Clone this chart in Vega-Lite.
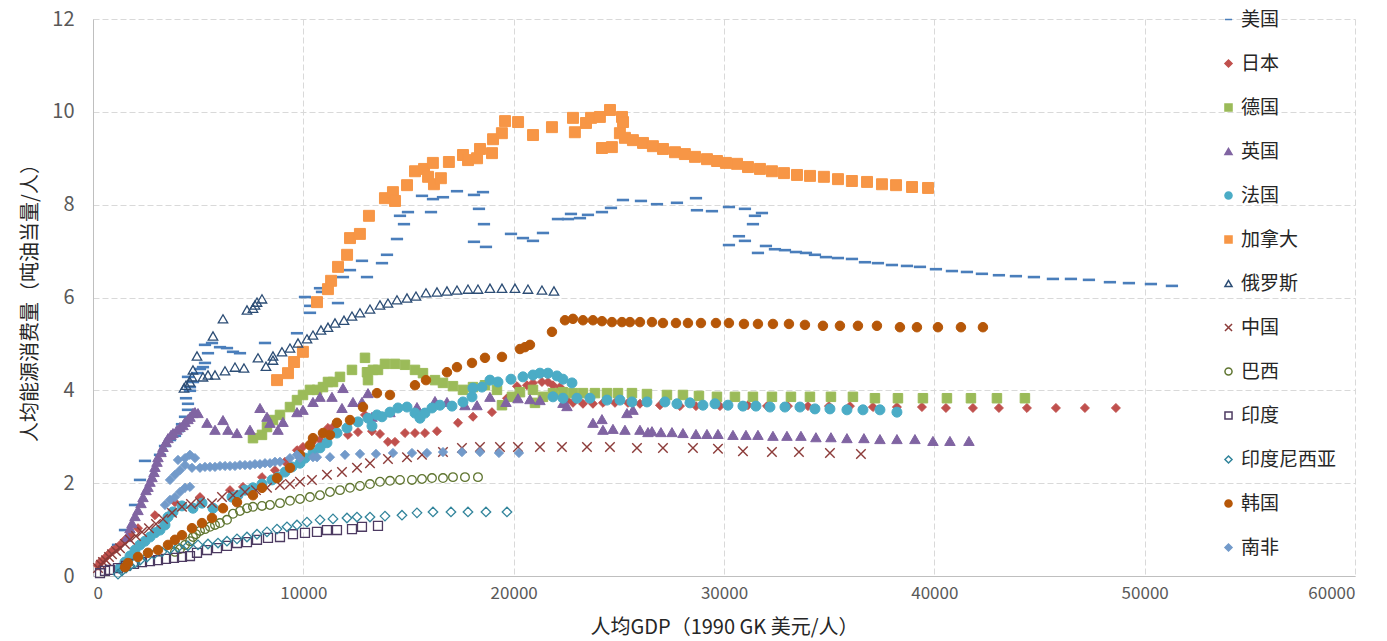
{
  "$schema": "https://vega.github.io/schema/vega-lite/v6.json",
  "width": 1262,
  "height": 557,
  "autosize": {"type": "none"},
  "padding": {"left": 93, "top": 19, "right": 32, "bottom": 65},
  "background": "white",
  "config": {
    "view": {"stroke": null},
    "font": "Noto Sans CJK SC"
  },
  "data": {
    "values": [
      {"country":"美国","gdp":1189,"energy":0.67},{"country":"美国","gdp":1521,"energy":0.99},{"country":"美国","gdp":1997,"energy":1.53},{"country":"美国","gdp":2234,"energy":2.07},{"country":"美国","gdp":2472,"energy":2.48},{"country":"美国","gdp":3185,"energy":2.61},{"country":"美国","gdp":3423,"energy":2.80},{"country":"美国","gdp":3661,"energy":2.93},{"country":"美国","gdp":3898,"energy":3.02},{"country":"美国","gdp":4041,"energy":3.12},{"country":"美国","gdp":4231,"energy":3.27},{"country":"美国","gdp":4374,"energy":3.43},{"country":"美国","gdp":4516,"energy":3.58},{"country":"美国","gdp":4516,"energy":3.71},{"country":"美国","gdp":4421,"energy":3.83},{"country":"美国","gdp":4611,"energy":3.99},{"country":"美国","gdp":4611,"energy":4.07},{"country":"美国","gdp":4754,"energy":4.18},{"country":"美国","gdp":4516,"energy":4.29},{"country":"美国","gdp":4944,"energy":4.37},{"country":"美国","gdp":5087,"energy":4.46},{"country":"美国","gdp":5229,"energy":4.50},{"country":"美国","gdp":5324,"energy":4.59},{"country":"美国","gdp":5467,"energy":4.80},{"country":"美国","gdp":5324,"energy":4.98},{"country":"美国","gdp":5657,"energy":5.02},{"country":"美国","gdp":6038,"energy":4.93},{"country":"美国","gdp":6370,"energy":4.91},{"country":"美国","gdp":6656,"energy":4.83},{"country":"美国","gdp":6988,"energy":4.80},{"country":"美国","gdp":8177,"energy":5.02},{"country":"美国","gdp":9698,"energy":5.23},{"country":"美国","gdp":10316,"energy":5.67},{"country":"美国","gdp":10316,"energy":5.82},{"country":"美国","gdp":10078,"energy":6.01},{"country":"美国","gdp":10792,"energy":6.20},{"country":"美国","gdp":10887,"energy":6.12},{"country":"美国","gdp":11647,"energy":5.88},{"country":"美国","gdp":11885,"energy":6.44},{"country":"美国","gdp":12218,"energy":6.59},{"country":"美国","gdp":12788,"energy":6.79},{"country":"美国","gdp":13026,"energy":6.44},{"country":"美国","gdp":13739,"energy":6.74},{"country":"美国","gdp":13977,"energy":6.92},{"country":"美国","gdp":14452,"energy":7.26},{"country":"美国","gdp":14595,"energy":7.76},{"country":"美国","gdp":14785,"energy":7.58},{"country":"美国","gdp":14975,"energy":7.84},{"country":"美国","gdp":15641,"energy":8.19},{"country":"美国","gdp":16069,"energy":7.84},{"country":"美国","gdp":16164,"energy":8.12},{"country":"美国","gdp":16639,"energy":8.16},{"country":"美国","gdp":17305,"energy":8.29},{"country":"美国","gdp":18113,"energy":8.21},{"country":"美国","gdp":18541,"energy":8.27},{"country":"美国","gdp":18350,"energy":7.91},{"country":"美国","gdp":18588,"energy":7.58},{"country":"美国","gdp":18113,"energy":7.20},{"country":"美国","gdp":18683,"energy":7.09},{"country":"美国","gdp":19872,"energy":7.37},{"country":"美国","gdp":20442,"energy":7.28},{"country":"美国","gdp":20918,"energy":7.22},{"country":"美国","gdp":21393,"energy":7.39},{"country":"美国","gdp":22106,"energy":7.69},{"country":"美国","gdp":22582,"energy":7.69},{"country":"美国","gdp":22724,"energy":7.80},{"country":"美国","gdp":23152,"energy":7.71},{"country":"美国","gdp":23532,"energy":7.78},{"country":"美国","gdp":24198,"energy":7.84},{"country":"美国","gdp":24626,"energy":7.93},{"country":"美国","gdp":25196,"energy":8.10},{"country":"美国","gdp":26052,"energy":8.08},{"country":"美国","gdp":26813,"energy":8.01},{"country":"美国","gdp":27763,"energy":8.04},{"country":"美国","gdp":28667,"energy":8.14},{"country":"美国","gdp":28714,"energy":7.88},{"country":"美国","gdp":29427,"energy":7.86},{"country":"美国","gdp":30235,"energy":7.95},{"country":"美国","gdp":30996,"energy":7.91},{"country":"美国","gdp":31471,"energy":7.76},{"country":"美国","gdp":31804,"energy":7.82},{"country":"美国","gdp":31376,"energy":7.58},{"country":"美国","gdp":30711,"energy":7.32},{"country":"美国","gdp":30235,"energy":7.13},{"country":"美国","gdp":30996,"energy":7.22},{"country":"美国","gdp":31614,"energy":6.96},{"country":"美国","gdp":31994,"energy":7.11},{"country":"美国","gdp":32422,"energy":7.04},{"country":"美国","gdp":32898,"energy":7.02},{"country":"美国","gdp":33421,"energy":6.98},{"country":"美国","gdp":33896,"energy":6.96},{"country":"美国","gdp":34324,"energy":6.92},{"country":"美国","gdp":34847,"energy":6.87},{"country":"美国","gdp":35417,"energy":6.85},{"country":"美国","gdp":36083,"energy":6.83},{"country":"美国","gdp":36701,"energy":6.76},{"country":"美国","gdp":37319,"energy":6.74},{"country":"美国","gdp":37984,"energy":6.70},{"country":"美国","gdp":38698,"energy":6.68},{"country":"美国","gdp":39316,"energy":6.66},{"country":"美国","gdp":40076,"energy":6.61},{"country":"美国","gdp":40837,"energy":6.57},{"country":"美国","gdp":41550,"energy":6.55},{"country":"美国","gdp":42263,"energy":6.51},{"country":"美国","gdp":43071,"energy":6.48},{"country":"美国","gdp":43879,"energy":6.46},{"country":"美国","gdp":44735,"energy":6.44},{"country":"美国","gdp":45638,"energy":6.40},{"country":"美国","gdp":46494,"energy":6.40},{"country":"美国","gdp":47350,"energy":6.38},{"country":"美国","gdp":48348,"energy":6.33},{"country":"美国","gdp":49251,"energy":6.31},{"country":"美国","gdp":50297,"energy":6.29},{"country":"美国","gdp":51296,"energy":6.25},

      {"country":"日本","gdp":238,"energy":0.22},{"country":"日本","gdp":333,"energy":0.30},{"country":"日本","gdp":475,"energy":0.34},{"country":"日本","gdp":618,"energy":0.41},{"country":"日本","gdp":713,"energy":0.45},{"country":"日本","gdp":856,"energy":0.52},{"country":"日本","gdp":998,"energy":0.56},{"country":"日本","gdp":1141,"energy":0.60},{"country":"日本","gdp":1284,"energy":0.67},{"country":"日本","gdp":1521,"energy":0.78},{"country":"日本","gdp":1759,"energy":0.88},{"country":"日本","gdp":2139,"energy":1.03},{"country":"日本","gdp":2947,"energy":1.31},{"country":"日本","gdp":3898,"energy":1.59},{"country":"日本","gdp":5087,"energy":1.70},{"country":"日本","gdp":6513,"energy":1.85},{"country":"日本","gdp":7131,"energy":1.92},{"country":"日本","gdp":8034,"energy":2.13},{"country":"日本","gdp":8652,"energy":2.28},{"country":"日本","gdp":9128,"energy":2.46},{"country":"日本","gdp":9698,"energy":2.71},{"country":"日本","gdp":9983,"energy":2.78},{"country":"日本","gdp":10411,"energy":2.87},{"country":"日本","gdp":10792,"energy":2.93},{"country":"日本","gdp":11172,"energy":3.19},{"country":"日本","gdp":11410,"energy":3.21},{"country":"日本","gdp":12123,"energy":3.04},{"country":"日本","gdp":12598,"energy":3.10},{"country":"日本","gdp":12931,"energy":3.47},{"country":"日本","gdp":13264,"energy":3.12},{"country":"日本","gdp":13644,"energy":3.06},{"country":"日本","gdp":14024,"energy":2.89},{"country":"日本","gdp":14357,"energy":2.89},{"country":"日本","gdp":14832,"energy":3.08},{"country":"日本","gdp":15308,"energy":3.08},{"country":"日本","gdp":15783,"energy":3.08},{"country":"日本","gdp":16354,"energy":3.12},{"country":"日本","gdp":17352,"energy":3.30},{"country":"日本","gdp":18065,"energy":3.43},{"country":"日本","gdp":18968,"energy":3.53},{"country":"日本","gdp":19682,"energy":3.83},{"country":"日本","gdp":20157,"energy":4.09},{"country":"日本","gdp":20632,"energy":4.11},{"country":"日本","gdp":20918,"energy":4.16},{"country":"日本","gdp":21345,"energy":4.18},{"country":"日本","gdp":21631,"energy":4.18},{"country":"日本","gdp":21868,"energy":4.11},{"country":"日本","gdp":22201,"energy":4.07},{"country":"日本","gdp":22534,"energy":3.79},{"country":"日本","gdp":22819,"energy":3.73},{"country":"日本","gdp":23295,"energy":3.71},{"country":"日本","gdp":23770,"energy":3.71},{"country":"日本","gdp":24245,"energy":3.73},{"country":"日本","gdp":24816,"energy":3.73},{"country":"日本","gdp":25434,"energy":3.73},{"country":"日本","gdp":26004,"energy":3.71},{"country":"日本","gdp":26955,"energy":3.68},{"country":"日本","gdp":27906,"energy":3.66},{"country":"日本","gdp":28667,"energy":3.66},{"country":"日本","gdp":29808,"energy":3.66},{"country":"日本","gdp":31139,"energy":3.68},{"country":"日本","gdp":32042,"energy":3.66},{"country":"日本","gdp":33040,"energy":3.66},{"country":"日本","gdp":33991,"energy":3.66},{"country":"日本","gdp":34989,"energy":3.66},{"country":"日本","gdp":35988,"energy":3.66},{"country":"日本","gdp":37081,"energy":3.64},{"country":"日本","gdp":38222,"energy":3.64},{"country":"日本","gdp":39411,"energy":3.64},{"country":"日本","gdp":40552,"energy":3.62},{"country":"日本","gdp":41835,"energy":3.62},{"country":"日本","gdp":43071,"energy":3.62},{"country":"日本","gdp":44402,"energy":3.62},{"country":"日本","gdp":45781,"energy":3.62},{"country":"日本","gdp":47160,"energy":3.62},{"country":"日本","gdp":48633,"energy":3.62},

      {"country":"德国","gdp":7606,"energy":2.97},{"country":"德国","gdp":8034,"energy":3.04},{"country":"德国","gdp":8272,"energy":3.21},{"country":"德国","gdp":8557,"energy":3.36},{"country":"德国","gdp":8890,"energy":3.47},{"country":"德国","gdp":9365,"energy":3.64},{"country":"德国","gdp":9698,"energy":3.79},{"country":"德国","gdp":9983,"energy":3.90},{"country":"德国","gdp":10316,"energy":4.01},{"country":"德国","gdp":10649,"energy":4.01},{"country":"德国","gdp":10934,"energy":4.07},{"country":"德国","gdp":11172,"energy":4.18},{"country":"德国","gdp":11410,"energy":4.18},{"country":"德国","gdp":11742,"energy":4.29},{"country":"德国","gdp":12313,"energy":4.44},{"country":"德国","gdp":12931,"energy":4.70},{"country":"德国","gdp":13026,"energy":4.39},{"country":"德国","gdp":13074,"energy":4.22},{"country":"德国","gdp":13311,"energy":4.44},{"country":"德国","gdp":13549,"energy":4.44},{"country":"德国","gdp":13882,"energy":4.57},{"country":"德国","gdp":14357,"energy":4.57},{"country":"德国","gdp":14832,"energy":4.55},{"country":"德国","gdp":15308,"energy":4.44},{"country":"德国","gdp":15688,"energy":4.37},{"country":"德国","gdp":16259,"energy":4.22},{"country":"德国","gdp":16639,"energy":4.16},{"country":"德国","gdp":17114,"energy":4.09},{"country":"德国","gdp":17590,"energy":4.01},{"country":"德国","gdp":18065,"energy":4.07},{"country":"德国","gdp":18636,"energy":4.11},{"country":"德国","gdp":19206,"energy":4.01},{"country":"德国","gdp":19444,"energy":3.68},{"country":"德国","gdp":19919,"energy":3.86},{"country":"德国","gdp":20300,"energy":3.96},{"country":"德国","gdp":20918,"energy":4.01},{"country":"德国","gdp":21013,"energy":3.73},{"country":"德国","gdp":21393,"energy":3.86},{"country":"德国","gdp":21868,"energy":3.94},{"country":"德国","gdp":22344,"energy":3.96},{"country":"德国","gdp":22819,"energy":3.94},{"country":"德国","gdp":23295,"energy":3.94},{"country":"德国","gdp":23865,"energy":3.94},{"country":"德国","gdp":24436,"energy":3.94},{"country":"德国","gdp":24959,"energy":3.94},{"country":"德国","gdp":25624,"energy":3.94},{"country":"德国","gdp":26337,"energy":3.92},{"country":"德国","gdp":27288,"energy":3.90},{"country":"德国","gdp":28049,"energy":3.90},{"country":"德国","gdp":28809,"energy":3.88},{"country":"德国","gdp":29665,"energy":3.86},{"country":"德国","gdp":30521,"energy":3.86},{"country":"德国","gdp":31376,"energy":3.86},{"country":"德国","gdp":32280,"energy":3.86},{"country":"德国","gdp":33183,"energy":3.86},{"country":"德国","gdp":34086,"energy":3.86},{"country":"德国","gdp":35085,"energy":3.86},{"country":"德国","gdp":36130,"energy":3.86},{"country":"德国","gdp":37176,"energy":3.83},{"country":"德国","gdp":38270,"energy":3.83},{"country":"德国","gdp":39458,"energy":3.83},{"country":"德国","gdp":40599,"energy":3.83},{"country":"德国","gdp":41740,"energy":3.83},{"country":"德国","gdp":42976,"energy":3.83},{"country":"德国","gdp":44307,"energy":3.83},

      {"country":"英国","gdp":1616,"energy":0.84},{"country":"英国","gdp":1759,"energy":1.03},{"country":"英国","gdp":1854,"energy":1.14},{"country":"英国","gdp":1997,"energy":1.29},{"country":"英国","gdp":2139,"energy":1.42},{"country":"英国","gdp":2282,"energy":1.57},{"country":"英国","gdp":2377,"energy":1.70},{"country":"英国","gdp":2520,"energy":1.85},{"country":"英国","gdp":2615,"energy":1.92},{"country":"英国","gdp":2710,"energy":2.03},{"country":"英国","gdp":2805,"energy":2.13},{"country":"英国","gdp":2900,"energy":2.24},{"country":"英国","gdp":2947,"energy":2.35},{"country":"英国","gdp":3043,"energy":2.46},{"country":"英国","gdp":3090,"energy":2.56},{"country":"英国","gdp":3233,"energy":2.67},{"country":"英国","gdp":3328,"energy":2.78},{"country":"英国","gdp":3470,"energy":2.89},{"country":"英国","gdp":3566,"energy":2.97},{"country":"英国","gdp":3708,"energy":3.04},{"country":"英国","gdp":3803,"energy":3.08},{"country":"英国","gdp":3993,"energy":3.15},{"country":"英国","gdp":4136,"energy":3.21},{"country":"英国","gdp":4279,"energy":3.25},{"country":"英国","gdp":4374,"energy":3.32},{"country":"英国","gdp":4516,"energy":3.38},{"country":"英国","gdp":4611,"energy":3.43},{"country":"英国","gdp":4754,"energy":3.51},{"country":"英国","gdp":4849,"energy":3.53},{"country":"英国","gdp":4992,"energy":3.51},{"country":"英国","gdp":5420,"energy":3.30},{"country":"英国","gdp":5800,"energy":3.15},{"country":"英国","gdp":6180,"energy":3.36},{"country":"英国","gdp":6418,"energy":3.15},{"country":"英国","gdp":6846,"energy":3.08},{"country":"英国","gdp":7464,"energy":3.15},{"country":"英国","gdp":7939,"energy":3.62},{"country":"英国","gdp":8272,"energy":3.43},{"country":"英国","gdp":8415,"energy":3.30},{"country":"英国","gdp":8795,"energy":3.15},{"country":"英国","gdp":9033,"energy":3.32},{"country":"英国","gdp":9698,"energy":3.53},{"country":"英国","gdp":9983,"energy":3.58},{"country":"英国","gdp":10459,"energy":3.75},{"country":"英国","gdp":10792,"energy":3.86},{"country":"英国","gdp":11362,"energy":3.86},{"country":"英国","gdp":11885,"energy":4.05},{"country":"英国","gdp":11837,"energy":3.62},{"country":"英国","gdp":12360,"energy":3.75},{"country":"英国","gdp":12788,"energy":3.75},{"country":"英国","gdp":13074,"energy":3.94},{"country":"英国","gdp":13264,"energy":3.43},{"country":"英国","gdp":14119,"energy":3.53},{"country":"英国","gdp":15403,"energy":3.64},{"country":"英国","gdp":16259,"energy":3.77},{"country":"英国","gdp":16829,"energy":3.75},{"country":"英国","gdp":17685,"energy":3.68},{"country":"英国","gdp":18255,"energy":3.68},{"country":"英国","gdp":18873,"energy":3.86},{"country":"英国","gdp":19634,"energy":3.75},{"country":"英国","gdp":20205,"energy":3.83},{"country":"英国","gdp":20775,"energy":3.81},{"country":"英国","gdp":21250,"energy":3.79},{"country":"英国","gdp":22344,"energy":3.73},{"country":"英国","gdp":22534,"energy":3.66},{"country":"英国","gdp":23770,"energy":3.30},{"country":"英国","gdp":24198,"energy":3.38},{"country":"英国","gdp":24245,"energy":3.15},{"country":"英国","gdp":24721,"energy":3.17},{"country":"英国","gdp":25291,"energy":3.15},{"country":"英国","gdp":25386,"energy":3.51},{"country":"英国","gdp":25672,"energy":3.58},{"country":"英国","gdp":26004,"energy":3.15},{"country":"英国","gdp":26385,"energy":3.10},{"country":"英国","gdp":26575,"energy":3.12},{"country":"英国","gdp":27003,"energy":3.10},{"country":"英国","gdp":27526,"energy":3.10},{"country":"英国","gdp":28049,"energy":3.08},{"country":"英国","gdp":28667,"energy":3.06},{"country":"英国","gdp":29190,"energy":3.06},{"country":"英国","gdp":29713,"energy":3.06},{"country":"英国","gdp":30426,"energy":3.04},{"country":"英国","gdp":31044,"energy":3.04},{"country":"英国","gdp":31614,"energy":3.04},{"country":"英国","gdp":32327,"energy":3.02},{"country":"英国","gdp":32993,"energy":3.02},{"country":"英国","gdp":33658,"energy":3.02},{"country":"英国","gdp":34371,"energy":2.99},{"country":"英国","gdp":35085,"energy":2.99},{"country":"英国","gdp":35845,"energy":2.97},{"country":"英国","gdp":36653,"energy":2.97},{"country":"英国","gdp":37414,"energy":2.95},{"country":"英国","gdp":38222,"energy":2.95},{"country":"英国","gdp":39078,"energy":2.95},{"country":"英国","gdp":39934,"energy":2.91},{"country":"英国","gdp":40742,"energy":2.91},{"country":"英国","gdp":41645,"energy":2.91},

      {"country":"法国","gdp":1284,"energy":0.17},{"country":"法国","gdp":1521,"energy":0.30},{"country":"法国","gdp":1759,"energy":0.43},{"country":"法国","gdp":1997,"energy":0.56},{"country":"法国","gdp":2234,"energy":0.67},{"country":"法国","gdp":2472,"energy":0.75},{"country":"法国","gdp":2710,"energy":0.84},{"country":"法国","gdp":2947,"energy":0.93},{"country":"法国","gdp":3185,"energy":0.99},{"country":"法国","gdp":3423,"energy":1.10},{"country":"法国","gdp":3566,"energy":1.27},{"country":"法国","gdp":3803,"energy":1.38},{"country":"法国","gdp":4231,"energy":1.51},{"country":"法国","gdp":4754,"energy":1.46},{"country":"法国","gdp":5182,"energy":1.57},{"country":"法国","gdp":5705,"energy":1.46},{"country":"法国","gdp":6608,"energy":1.70},{"country":"法国","gdp":6893,"energy":1.74},{"country":"法国","gdp":7226,"energy":1.85},{"country":"法国","gdp":7606,"energy":1.90},{"country":"法国","gdp":8034,"energy":1.98},{"country":"法国","gdp":8510,"energy":2.07},{"country":"法国","gdp":8795,"energy":2.13},{"country":"法国","gdp":9128,"energy":2.24},{"country":"法国","gdp":9460,"energy":2.35},{"country":"法国","gdp":9841,"energy":2.43},{"country":"法国","gdp":10078,"energy":2.54},{"country":"法国","gdp":10459,"energy":2.65},{"country":"法国","gdp":10792,"energy":2.76},{"country":"法国","gdp":11124,"energy":2.87},{"country":"法国","gdp":11600,"energy":3.08},{"country":"法国","gdp":12075,"energy":3.19},{"country":"法国","gdp":12598,"energy":3.32},{"country":"法国","gdp":13074,"energy":3.40},{"country":"法国","gdp":13264,"energy":3.23},{"country":"法国","gdp":13501,"energy":3.47},{"country":"法国","gdp":13739,"energy":3.43},{"country":"法国","gdp":14119,"energy":3.53},{"country":"法国","gdp":14500,"energy":3.62},{"country":"法国","gdp":14928,"energy":3.64},{"country":"法国","gdp":15308,"energy":3.51},{"country":"法国","gdp":15546,"energy":3.40},{"country":"法国","gdp":15783,"energy":3.51},{"country":"法国","gdp":16116,"energy":3.62},{"country":"法国","gdp":16496,"energy":3.68},{"country":"法国","gdp":17067,"energy":3.66},{"country":"法国","gdp":17590,"energy":3.75},{"country":"法国","gdp":18018,"energy":3.86},{"country":"法国","gdp":18065,"energy":4.05},{"country":"法国","gdp":18493,"energy":4.07},{"country":"法国","gdp":18873,"energy":4.22},{"country":"法国","gdp":19254,"energy":4.18},{"country":"法国","gdp":19872,"energy":4.24},{"country":"法国","gdp":20442,"energy":4.29},{"country":"法国","gdp":20918,"energy":4.33},{"country":"法国","gdp":21250,"energy":4.37},{"country":"法国","gdp":21631,"energy":4.37},{"country":"法国","gdp":22059,"energy":4.31},{"country":"法国","gdp":22344,"energy":4.24},{"country":"法国","gdp":22772,"energy":4.16},{"country":"法国","gdp":21868,"energy":3.86},{"country":"法国","gdp":22344,"energy":3.83},{"country":"法国","gdp":23009,"energy":3.83},{"country":"法国","gdp":23627,"energy":3.83},{"country":"法国","gdp":24436,"energy":3.79},{"country":"法国","gdp":25054,"energy":3.79},{"country":"法国","gdp":25624,"energy":3.75},{"country":"法国","gdp":26337,"energy":3.75},{"country":"法国","gdp":27193,"energy":3.75},{"country":"法国","gdp":27763,"energy":3.71},{"country":"法国","gdp":28381,"energy":3.73},{"country":"法国","gdp":28999,"energy":3.68},{"country":"法国","gdp":29570,"energy":3.71},{"country":"法国","gdp":30188,"energy":3.68},{"country":"法国","gdp":30901,"energy":3.66},{"country":"法国","gdp":31519,"energy":3.66},{"country":"法国","gdp":32185,"energy":3.64},{"country":"法国","gdp":32898,"energy":3.64},{"country":"法国","gdp":33611,"energy":3.64},{"country":"法国","gdp":34324,"energy":3.60},{"country":"法国","gdp":35037,"energy":3.60},{"country":"法国","gdp":35845,"energy":3.58},{"country":"法国","gdp":36606,"energy":3.58},{"country":"法国","gdp":37414,"energy":3.58},{"country":"法国","gdp":38222,"energy":3.53},

      {"country":"加拿大","gdp":8750,"energy":4.22},{"country":"加拿大","gdp":9270,"energy":4.37},{"country":"加拿大","gdp":9560,"energy":4.61},{"country":"加拿大","gdp":9980,"energy":4.83},{"country":"加拿大","gdp":10650,"energy":5.90},{"country":"加拿大","gdp":11170,"energy":6.18},{"country":"加拿大","gdp":11320,"energy":6.36},{"country":"加拿大","gdp":11650,"energy":6.66},{"country":"加拿大","gdp":12080,"energy":6.92},{"country":"加拿大","gdp":12220,"energy":7.28},{"country":"加拿大","gdp":12690,"energy":7.37},{"country":"加拿大","gdp":13120,"energy":7.76},{"country":"加拿大","gdp":13880,"energy":8.14},{"country":"加拿大","gdp":14260,"energy":8.27},{"country":"加拿大","gdp":14360,"energy":8.08},{"country":"加拿大","gdp":14930,"energy":8.42},{"country":"加拿大","gdp":15310,"energy":8.72},{"country":"加拿大","gdp":15740,"energy":8.77},{"country":"加拿大","gdp":15930,"energy":8.60},{"country":"加拿大","gdp":16160,"energy":8.90},{"country":"加拿大","gdp":16210,"energy":8.44},{"country":"加拿大","gdp":16540,"energy":8.57},{"country":"加拿大","gdp":16920,"energy":8.92},{"country":"加拿大","gdp":17590,"energy":9.07},{"country":"加拿大","gdp":17830,"energy":8.96},{"country":"加拿大","gdp":18260,"energy":9.00},{"country":"加拿大","gdp":18400,"energy":9.20},{"country":"加拿大","gdp":18970,"energy":9.11},{"country":"加拿大","gdp":19020,"energy":9.41},{"country":"加拿大","gdp":19440,"energy":9.54},{"country":"加拿大","gdp":19590,"energy":9.80},{"country":"加拿大","gdp":20210,"energy":9.78},{"country":"加拿大","gdp":20920,"energy":9.50},{"country":"加拿大","gdp":21820,"energy":9.67},{"country":"加拿大","gdp":22820,"energy":9.87},{"country":"加拿大","gdp":22910,"energy":9.56},{"country":"加拿大","gdp":23440,"energy":9.76},{"country":"加拿大","gdp":23680,"energy":9.87},{"country":"加拿大","gdp":24100,"energy":9.89},{"country":"加拿大","gdp":24580,"energy":10.04},{"country":"加拿大","gdp":25150,"energy":9.89},{"country":"加拿大","gdp":25200,"energy":9.78},{"country":"加拿大","gdp":24200,"energy":9.22},{"country":"加拿大","gdp":24670,"energy":9.24},{"country":"加拿大","gdp":25050,"energy":9.54},{"country":"加拿大","gdp":25290,"energy":9.44},{"country":"加拿大","gdp":25670,"energy":9.39},{"country":"加拿大","gdp":26150,"energy":9.33},{"country":"加拿大","gdp":26620,"energy":9.26},{"country":"加拿大","gdp":27100,"energy":9.20},{"country":"加拿大","gdp":27670,"energy":9.13},{"country":"加拿大","gdp":28140,"energy":9.09},{"country":"加拿大","gdp":28620,"energy":9.03},{"country":"加拿大","gdp":29190,"energy":8.98},{"country":"加拿大","gdp":29670,"energy":8.94},{"country":"加拿大","gdp":30090,"energy":8.90},{"country":"加拿大","gdp":30620,"energy":8.88},{"country":"加拿大","gdp":31140,"energy":8.81},{"country":"加拿大","gdp":31710,"energy":8.77},{"country":"加拿大","gdp":32280,"energy":8.72},{"country":"加拿大","gdp":32850,"energy":8.68},{"country":"加拿大","gdp":33470,"energy":8.64},{"country":"加拿大","gdp":34090,"energy":8.62},{"country":"加拿大","gdp":34750,"energy":8.60},{"country":"加拿大","gdp":35420,"energy":8.55},{"country":"加拿大","gdp":36080,"energy":8.51},{"country":"加拿大","gdp":36800,"energy":8.49},{"country":"加拿大","gdp":37510,"energy":8.44},{"country":"加拿大","gdp":38180,"energy":8.42},{"country":"加拿大","gdp":38940,"energy":8.38},{"country":"加拿大","gdp":39700,"energy":8.36},

      {"country":"俄罗斯","gdp":4326,"energy":4.05},{"country":"俄罗斯","gdp":4421,"energy":4.11},{"country":"俄罗斯","gdp":4611,"energy":4.18},{"country":"俄罗斯","gdp":4706,"energy":4.29},{"country":"俄罗斯","gdp":4754,"energy":4.44},{"country":"俄罗斯","gdp":4944,"energy":4.74},{"country":"俄罗斯","gdp":5229,"energy":4.29},{"country":"俄罗斯","gdp":5467,"energy":4.33},{"country":"俄罗斯","gdp":5800,"energy":4.33},{"country":"俄罗斯","gdp":5705,"energy":5.17},{"country":"俄罗斯","gdp":6180,"energy":5.54},{"country":"俄罗斯","gdp":6275,"energy":4.42},{"country":"俄罗斯","gdp":6751,"energy":4.50},{"country":"俄罗斯","gdp":7179,"energy":4.48},{"country":"俄罗斯","gdp":7321,"energy":5.73},{"country":"俄罗斯","gdp":7606,"energy":5.77},{"country":"俄罗斯","gdp":7701,"energy":5.84},{"country":"俄罗斯","gdp":7797,"energy":5.90},{"country":"俄罗斯","gdp":8034,"energy":5.97},{"country":"俄罗斯","gdp":7844,"energy":4.70},{"country":"俄罗斯","gdp":8224,"energy":4.52},{"country":"俄罗斯","gdp":8557,"energy":4.74},{"country":"俄罗斯","gdp":8557,"energy":4.65},{"country":"俄罗斯","gdp":8985,"energy":4.83},{"country":"俄罗斯","gdp":9365,"energy":4.91},{"country":"俄罗斯","gdp":9746,"energy":5.02},{"country":"俄罗斯","gdp":10174,"energy":5.11},{"country":"俄罗斯","gdp":10459,"energy":5.19},{"country":"俄罗斯","gdp":10839,"energy":5.30},{"country":"俄罗斯","gdp":11172,"energy":5.36},{"country":"俄罗斯","gdp":11505,"energy":5.45},{"country":"俄罗斯","gdp":11933,"energy":5.51},{"country":"俄罗斯","gdp":12313,"energy":5.60},{"country":"俄罗斯","gdp":12693,"energy":5.67},{"country":"俄罗斯","gdp":13169,"energy":5.75},{"country":"俄罗斯","gdp":13644,"energy":5.84},{"country":"俄罗斯","gdp":14024,"energy":5.88},{"country":"俄罗斯","gdp":14452,"energy":5.95},{"country":"俄罗斯","gdp":14928,"energy":5.99},{"country":"俄罗斯","gdp":15355,"energy":6.03},{"country":"俄罗斯","gdp":15831,"energy":6.10},{"country":"俄罗斯","gdp":16354,"energy":6.12},{"country":"俄罗斯","gdp":16829,"energy":6.14},{"country":"俄罗斯","gdp":17305,"energy":6.16},{"country":"俄罗斯","gdp":17828,"energy":6.18},{"country":"俄罗斯","gdp":18303,"energy":6.18},{"country":"俄罗斯","gdp":18873,"energy":6.20},{"country":"俄罗斯","gdp":19444,"energy":6.20},{"country":"俄罗斯","gdp":20062,"energy":6.20},{"country":"俄罗斯","gdp":20680,"energy":6.18},{"country":"俄罗斯","gdp":21345,"energy":6.16},{"country":"俄罗斯","gdp":21916,"energy":6.14},

      {"country":"中国","gdp":238,"energy":0.17},{"country":"中国","gdp":380,"energy":0.24},{"country":"中国","gdp":475,"energy":0.30},{"country":"中国","gdp":618,"energy":0.34},{"country":"中国","gdp":761,"energy":0.41},{"country":"中国","gdp":903,"energy":0.47},{"country":"中国","gdp":1093,"energy":0.54},{"country":"中国","gdp":1284,"energy":0.60},{"country":"中国","gdp":1521,"energy":0.69},{"country":"中国","gdp":1759,"energy":0.78},{"country":"中国","gdp":2044,"energy":0.86},{"country":"中国","gdp":2329,"energy":0.95},{"country":"中国","gdp":2662,"energy":1.03},{"country":"中国","gdp":2995,"energy":1.12},{"country":"中国","gdp":3328,"energy":1.23},{"country":"中国","gdp":3756,"energy":1.36},{"country":"中国","gdp":4231,"energy":1.49},{"country":"中国","gdp":4659,"energy":1.55},{"country":"中国","gdp":5087,"energy":1.59},{"country":"中国","gdp":5657,"energy":1.57},{"country":"中国","gdp":6133,"energy":1.70},{"country":"中国","gdp":6656,"energy":1.74},{"country":"中国","gdp":7226,"energy":1.81},{"country":"中国","gdp":7749,"energy":1.85},{"country":"中国","gdp":8272,"energy":1.90},{"country":"中国","gdp":8890,"energy":1.96},{"country":"中国","gdp":9365,"energy":1.98},{"country":"中国","gdp":9841,"energy":2.03},{"country":"中国","gdp":10411,"energy":2.07},{"country":"中国","gdp":11124,"energy":2.18},{"country":"中国","gdp":11837,"energy":2.24},{"country":"中国","gdp":12551,"energy":2.33},{"country":"中国","gdp":13169,"energy":2.43},{"country":"中国","gdp":14024,"energy":2.52},{"country":"中国","gdp":14928,"energy":2.56},{"country":"中国","gdp":15641,"energy":2.61},{"country":"中国","gdp":16639,"energy":2.67},{"country":"中国","gdp":17542,"energy":2.76},{"country":"中国","gdp":18398,"energy":2.78},{"country":"中国","gdp":19349,"energy":2.78},{"country":"中国","gdp":20205,"energy":2.78},{"country":"中国","gdp":21250,"energy":2.78},{"country":"中国","gdp":22296,"energy":2.78},{"country":"中国","gdp":23485,"energy":2.78},{"country":"中国","gdp":24578,"energy":2.78},{"country":"中国","gdp":25862,"energy":2.76},{"country":"中国","gdp":27098,"energy":2.76},{"country":"中国","gdp":28524,"energy":2.76},{"country":"中国","gdp":29713,"energy":2.74},{"country":"中国","gdp":30901,"energy":2.69},{"country":"中国","gdp":32280,"energy":2.67},{"country":"中国","gdp":33564,"energy":2.67},{"country":"中国","gdp":35037,"energy":2.65},{"country":"中国","gdp":36511,"energy":2.63},

      {"country":"巴西","gdp":3898,"energy":0.52},{"country":"巴西","gdp":4136,"energy":0.58},{"country":"巴西","gdp":4374,"energy":0.67},{"country":"巴西","gdp":4611,"energy":0.75},{"country":"巴西","gdp":4754,"energy":0.84},{"country":"巴西","gdp":4897,"energy":0.90},{"country":"巴西","gdp":5087,"energy":0.97},{"country":"巴西","gdp":5324,"energy":1.01},{"country":"巴西","gdp":5562,"energy":1.06},{"country":"巴西","gdp":5800,"energy":1.10},{"country":"巴西","gdp":6038,"energy":1.14},{"country":"巴西","gdp":6370,"energy":1.21},{"country":"巴西","gdp":6656,"energy":1.34},{"country":"巴西","gdp":6988,"energy":1.40},{"country":"巴西","gdp":7321,"energy":1.46},{"country":"巴西","gdp":7606,"energy":1.49},{"country":"巴西","gdp":8034,"energy":1.51},{"country":"巴西","gdp":8415,"energy":1.53},{"country":"巴西","gdp":8890,"energy":1.57},{"country":"巴西","gdp":9365,"energy":1.62},{"country":"巴西","gdp":9841,"energy":1.66},{"country":"巴西","gdp":10316,"energy":1.70},{"country":"巴西","gdp":10792,"energy":1.74},{"country":"巴西","gdp":11267,"energy":1.81},{"country":"巴西","gdp":11742,"energy":1.85},{"country":"巴西","gdp":12218,"energy":1.90},{"country":"巴西","gdp":12693,"energy":1.94},{"country":"巴西","gdp":13169,"energy":1.98},{"country":"巴西","gdp":13644,"energy":2.03},{"country":"巴西","gdp":14119,"energy":2.05},{"country":"巴西","gdp":14595,"energy":2.07},{"country":"巴西","gdp":15165,"energy":2.07},{"country":"巴西","gdp":15641,"energy":2.09},{"country":"巴西","gdp":16116,"energy":2.11},{"country":"巴西","gdp":16639,"energy":2.11},{"country":"巴西","gdp":17114,"energy":2.13},{"country":"巴西","gdp":17685,"energy":2.13},{"country":"巴西","gdp":18303,"energy":2.13},

      {"country":"印度","gdp":333,"energy":0.06},{"country":"印度","gdp":570,"energy":0.11},{"country":"印度","gdp":808,"energy":0.13},{"country":"印度","gdp":1189,"energy":0.17},{"country":"印度","gdp":1569,"energy":0.22},{"country":"印度","gdp":1949,"energy":0.26},{"country":"印度","gdp":2329,"energy":0.30},{"country":"印度","gdp":2710,"energy":0.32},{"country":"印度","gdp":3090,"energy":0.34},{"country":"印度","gdp":3470,"energy":0.37},{"country":"印度","gdp":3851,"energy":0.39},{"country":"印度","gdp":4231,"energy":0.41},{"country":"印度","gdp":4611,"energy":0.43},{"country":"印度","gdp":4944,"energy":0.50},{"country":"印度","gdp":5420,"energy":0.56},{"country":"印度","gdp":5895,"energy":0.60},{"country":"印度","gdp":6370,"energy":0.65},{"country":"印度","gdp":6846,"energy":0.71},{"country":"印度","gdp":7321,"energy":0.73},{"country":"印度","gdp":7797,"energy":0.78},{"country":"印度","gdp":8320,"energy":0.82},{"country":"印度","gdp":8890,"energy":0.84},{"country":"印度","gdp":9508,"energy":0.90},{"country":"印度","gdp":10078,"energy":0.93},{"country":"印度","gdp":10649,"energy":0.95},{"country":"印度","gdp":11124,"energy":0.99},{"country":"印度","gdp":11600,"energy":0.99},{"country":"印度","gdp":12313,"energy":1.01},{"country":"印度","gdp":12788,"energy":1.06},{"country":"印度","gdp":13549,"energy":1.08},

      {"country":"印度尼西亚","gdp":1189,"energy":0.04},{"country":"印度尼西亚","gdp":1379,"energy":0.11},{"country":"印度尼西亚","gdp":1569,"energy":0.17},{"country":"印度尼西亚","gdp":1759,"energy":0.22},{"country":"印度尼西亚","gdp":1997,"energy":0.28},{"country":"印度尼西亚","gdp":2234,"energy":0.34},{"country":"印度尼西亚","gdp":2567,"energy":0.41},{"country":"印度尼西亚","gdp":2900,"energy":0.47},{"country":"印度尼西亚","gdp":3280,"energy":0.52},{"country":"印度尼西亚","gdp":3661,"energy":0.58},{"country":"印度尼西亚","gdp":4041,"energy":0.62},{"country":"印度尼西亚","gdp":4516,"energy":0.65},{"country":"印度尼西亚","gdp":4992,"energy":0.67},{"country":"印度尼西亚","gdp":5467,"energy":0.69},{"country":"印度尼西亚","gdp":5943,"energy":0.71},{"country":"印度尼西亚","gdp":6370,"energy":0.75},{"country":"印度尼西亚","gdp":6846,"energy":0.80},{"country":"印度尼西亚","gdp":7321,"energy":0.84},{"country":"印度尼西亚","gdp":7797,"energy":0.90},{"country":"印度尼西亚","gdp":8272,"energy":0.95},{"country":"印度尼西亚","gdp":8747,"energy":1.01},{"country":"印度尼西亚","gdp":9223,"energy":1.06},{"country":"印度尼西亚","gdp":9698,"energy":1.10},{"country":"印度尼西亚","gdp":10174,"energy":1.16},{"country":"印度尼西亚","gdp":10792,"energy":1.21},{"country":"印度尼西亚","gdp":11410,"energy":1.23},{"country":"印度尼西亚","gdp":12075,"energy":1.25},{"country":"印度尼西亚","gdp":12551,"energy":1.27},{"country":"印度尼西亚","gdp":13169,"energy":1.27},{"country":"印度尼西亚","gdp":13882,"energy":1.29},{"country":"印度尼西亚","gdp":14690,"energy":1.31},{"country":"印度尼西亚","gdp":15403,"energy":1.36},{"country":"印度尼西亚","gdp":16164,"energy":1.38},{"country":"印度尼西亚","gdp":17019,"energy":1.38},{"country":"印度尼西亚","gdp":17828,"energy":1.38},{"country":"印度尼西亚","gdp":18683,"energy":1.38},{"country":"印度尼西亚","gdp":19682,"energy":1.38},

      {"country":"韩国","gdp":1521,"energy":0.19},{"country":"韩国","gdp":1664,"energy":0.28},{"country":"韩国","gdp":2139,"energy":0.41},{"country":"韩国","gdp":2615,"energy":0.50},{"country":"韩国","gdp":3090,"energy":0.56},{"country":"韩国","gdp":3566,"energy":0.67},{"country":"韩国","gdp":3898,"energy":0.78},{"country":"韩国","gdp":4231,"energy":0.88},{"country":"韩国","gdp":4706,"energy":1.03},{"country":"韩国","gdp":5182,"energy":1.14},{"country":"韩国","gdp":5657,"energy":1.25},{"country":"韩国","gdp":6180,"energy":1.46},{"country":"韩国","gdp":6846,"energy":1.59},{"country":"韩国","gdp":7606,"energy":1.74},{"country":"韩国","gdp":8034,"energy":1.90},{"country":"韩国","gdp":8747,"energy":2.11},{"country":"韩国","gdp":9365,"energy":2.33},{"country":"韩国","gdp":9841,"energy":2.61},{"country":"韩国","gdp":10316,"energy":2.82},{"country":"韩国","gdp":10459,"energy":2.97},{"country":"韩国","gdp":10934,"energy":3.08},{"country":"韩国","gdp":11267,"energy":3.04},{"country":"韩国","gdp":11600,"energy":3.30},{"country":"韩国","gdp":12218,"energy":3.36},{"country":"韩国","gdp":12836,"energy":3.64},{"country":"韩国","gdp":13501,"energy":3.94},{"country":"韩国","gdp":14119,"energy":3.90},{"country":"韩国","gdp":15308,"energy":4.11},{"country":"韩国","gdp":15831,"energy":4.22},{"country":"韩国","gdp":16829,"energy":4.39},{"country":"韩国","gdp":17305,"energy":4.50},{"country":"韩国","gdp":18018,"energy":4.59},{"country":"韩国","gdp":18636,"energy":4.70},{"country":"韩国","gdp":19444,"energy":4.72},{"country":"韩国","gdp":20300,"energy":4.89},{"country":"韩国","gdp":20537,"energy":4.93},{"country":"韩国","gdp":20775,"energy":4.98},{"country":"韩国","gdp":21821,"energy":5.26},{"country":"韩国","gdp":22439,"energy":5.51},{"country":"韩国","gdp":22819,"energy":5.54},{"country":"韩国","gdp":23295,"energy":5.51},{"country":"韩国","gdp":23770,"energy":5.51},{"country":"韩国","gdp":24198,"energy":5.49},{"country":"韩国","gdp":24673,"energy":5.47},{"country":"韩国","gdp":25149,"energy":5.47},{"country":"韩国","gdp":25529,"energy":5.47},{"country":"韩国","gdp":26004,"energy":5.47},{"country":"韩国","gdp":26575,"energy":5.47},{"country":"韩国","gdp":27098,"energy":5.45},{"country":"韩国","gdp":27716,"energy":5.45},{"country":"韩国","gdp":28286,"energy":5.45},{"country":"韩国","gdp":28904,"energy":5.45},{"country":"韩国","gdp":29617,"energy":5.45},{"country":"韩国","gdp":30235,"energy":5.45},{"country":"韩国","gdp":30949,"energy":5.43},{"country":"韩国","gdp":31614,"energy":5.43},{"country":"韩国","gdp":32327,"energy":5.43},{"country":"韩国","gdp":33088,"energy":5.43},{"country":"韩国","gdp":33848,"energy":5.41},{"country":"韩国","gdp":34704,"energy":5.39},{"country":"韩国","gdp":35512,"energy":5.39},{"country":"韩国","gdp":36368,"energy":5.39},{"country":"韩国","gdp":37271,"energy":5.39},{"country":"韩国","gdp":38365,"energy":5.36},{"country":"韩国","gdp":39173,"energy":5.36},{"country":"韩国","gdp":40171,"energy":5.36},{"country":"韩国","gdp":41265,"energy":5.36},{"country":"韩国","gdp":42311,"energy":5.36},

      {"country":"南非","gdp":3423,"energy":1.53},{"country":"南非","gdp":3661,"energy":1.64},{"country":"南非","gdp":3898,"energy":1.70},{"country":"南非","gdp":4136,"energy":1.81},{"country":"南非","gdp":4374,"energy":1.90},{"country":"南非","gdp":4611,"energy":1.92},{"country":"南非","gdp":3661,"energy":2.07},{"country":"南非","gdp":3898,"energy":2.18},{"country":"南非","gdp":4136,"energy":2.28},{"country":"南非","gdp":4374,"energy":2.39},{"country":"南非","gdp":4041,"energy":2.50},{"country":"南非","gdp":4374,"energy":2.54},{"country":"南非","gdp":4611,"energy":2.61},{"country":"南非","gdp":4849,"energy":2.54},{"country":"南非","gdp":4706,"energy":2.33},{"country":"南非","gdp":5087,"energy":2.33},{"country":"南非","gdp":5324,"energy":2.35},{"country":"南非","gdp":5562,"energy":2.35},{"country":"南非","gdp":5800,"energy":2.35},{"country":"南非","gdp":6038,"energy":2.37},{"country":"南非","gdp":6275,"energy":2.37},{"country":"南非","gdp":6513,"energy":2.37},{"country":"南非","gdp":6751,"energy":2.37},{"country":"南非","gdp":6988,"energy":2.39},{"country":"南非","gdp":7226,"energy":2.39},{"country":"南非","gdp":7464,"energy":2.39},{"country":"南非","gdp":7701,"energy":2.41},{"country":"南非","gdp":7939,"energy":2.41},{"country":"南非","gdp":8177,"energy":2.43},{"country":"南非","gdp":8415,"energy":2.43},{"country":"南非","gdp":8652,"energy":2.46},{"country":"南非","gdp":8890,"energy":2.46},{"country":"南非","gdp":9365,"energy":2.54},{"country":"南非","gdp":9698,"energy":2.61},{"country":"南非","gdp":9841,"energy":2.54},{"country":"南非","gdp":10459,"energy":2.56},{"country":"南非","gdp":10649,"energy":2.56},{"country":"南非","gdp":11267,"energy":2.56},{"country":"南非","gdp":11980,"energy":2.61},{"country":"南非","gdp":12693,"energy":2.63},{"country":"南非","gdp":13454,"energy":2.63},{"country":"南非","gdp":14262,"energy":2.65},{"country":"南非","gdp":15165,"energy":2.65},{"country":"南非","gdp":15878,"energy":2.65},{"country":"南非","gdp":16639,"energy":2.67},{"country":"南非","gdp":17542,"energy":2.67},{"country":"南非","gdp":18398,"energy":2.67},{"country":"南非","gdp":19301,"energy":2.65},{"country":"南非","gdp":20252,"energy":2.65}
    ]
  },
  "encoding": {
    "x": {
      "field": "gdp",
      "type": "quantitative",
      "scale": {"domain": [0, 60000], "nice": false, "zero": true},
      "axis": {
        "title": "人均GDP（1990 GK 美元/人）",
        "values": [0, 10000, 20000, 30000, 40000, 50000, 60000],
        "format": "d",
        "grid": true,
        "gridColor": "#d9d9d9",
        "gridDash": [6, 3],
        "domainColor": "#bfbfbf",
        "ticks": false,
        "labelFontSize": 17,
        "labelColor": "#595959",
        "labelPadding": 9,
        "titleFont": "Noto Sans CJK SC",
        "titleFontSize": 20,
        "titleFontWeight": "normal",
        "titleColor": "#262626",
        "titlePadding": 16
      }
    },
    "y": {
      "field": "energy",
      "type": "quantitative",
      "scale": {"domain": [0, 12], "nice": false},
      "axis": {
        "title": "人均能源消费量（吨油当量/人）",
        "values": [0, 2, 4, 6, 8, 10, 12],
        "grid": true,
        "gridColor": "#d9d9d9",
        "gridDash": [6, 3],
        "domainColor": "#bfbfbf",
        "ticks": false,
        "labelFontSize": 20,
        "labelColor": "#595959",
        "labelPadding": 19,
        "titleFont": "Noto Sans CJK SC",
        "titleFontSize": 20,
        "titleFontWeight": "normal",
        "titleColor": "#262626",
        "titlePadding": 11
      }
    },
    "shape": {
      "field": "country",
      "type": "nominal",
      "scale": {
        "domain": ["美国","日本","德国","英国","法国","加拿大","俄罗斯","中国","巴西","印度","印度尼西亚","韩国","南非"],
        "range": ["M-1,0L1,0","diamond","square","triangle-up","circle","square","triangle-up","M-1,-1L1,1M-1,1L1,-1","circle","square","diamond","circle","diamond"]
      },
      "legend": {"title": null, "orient": "none", "legendX": 1126, "legendY": -9, "rowPadding": 24, "symbolSize": 50, "labelFontSize": 19, "labelOffset": 3, "labelColor": "#262626"}
    },
    "fill": {
      "field": "country",
      "type": "nominal",
      "scale": {
        "domain": ["美国","日本","德国","英国","法国","加拿大","俄罗斯","中国","巴西","印度","印度尼西亚","韩国","南非"],
        "range": ["#4a7ebb","#c0504d","#9bbb59","#8064a2","#4bacc6","#f79646","transparent","transparent","transparent","transparent","transparent","#b65708","#729aca"]
      },
      "legend": {"title": null, "orient": "none", "legendX": 1126, "legendY": -9, "rowPadding": 24, "symbolSize": 50, "labelFontSize": 19, "labelOffset": 3, "labelColor": "#262626"}
    },
    "stroke": {
      "field": "country",
      "type": "nominal",
      "scale": {
        "domain": ["美国","日本","德国","英国","法国","加拿大","俄罗斯","中国","巴西","印度","印度尼西亚","韩国","南非"],
        "range": ["#4a7ebb","#c0504d","#9bbb59","#8064a2","#4bacc6","#f79646","#2c4d75","#8c3b39","#5f7530","#4d3b62","#31849b","#b65708","#729aca"]
      },
      "legend": {"title": null, "orient": "none", "legendX": 1126, "legendY": -9, "rowPadding": 24, "symbolSize": 50, "labelFontSize": 19, "labelOffset": 3, "labelColor": "#262626"}
    }
  },
  "layer": [
    {"transform": [{"filter": {"field": "country", "equal": "美国"}}], "mark": {"type": "point", "filled": true, "opacity": 1, "size": 150, "strokeWidth": 2.6}},
    {"transform": [{"filter": {"field": "country", "equal": "日本"}}], "mark": {"type": "point", "filled": true, "opacity": 1, "size": 80, "strokeWidth": 1}},
    {"transform": [{"filter": {"field": "country", "equal": "德国"}}], "mark": {"type": "point", "filled": true, "opacity": 1, "size": 90, "strokeWidth": 1}},
    {"transform": [{"filter": {"field": "country", "equal": "英国"}}], "mark": {"type": "point", "filled": true, "opacity": 1, "size": 110, "strokeWidth": 1}},
    {"transform": [{"filter": {"field": "country", "equal": "法国"}}], "mark": {"type": "point", "filled": true, "opacity": 1, "size": 100, "strokeWidth": 1}},
    {"transform": [{"filter": {"field": "country", "equal": "加拿大"}}], "mark": {"type": "point", "filled": true, "opacity": 1, "size": 120, "strokeWidth": 1}},
    {"transform": [{"filter": {"field": "country", "equal": "俄罗斯"}}], "mark": {"type": "point", "filled": true, "opacity": 1, "size": 90, "strokeWidth": 1.3}},
    {"transform": [{"filter": {"field": "country", "equal": "中国"}}], "mark": {"type": "point", "filled": true, "opacity": 1, "size": 90, "strokeWidth": 1.4}},
    {"transform": [{"filter": {"field": "country", "equal": "巴西"}}], "mark": {"type": "point", "filled": true, "opacity": 1, "size": 75, "strokeWidth": 1.3}},
    {"transform": [{"filter": {"field": "country", "equal": "印度"}}], "mark": {"type": "point", "filled": true, "opacity": 1, "size": 80, "strokeWidth": 1.3}},
    {"transform": [{"filter": {"field": "country", "equal": "印度尼西亚"}}], "mark": {"type": "point", "filled": true, "opacity": 1, "size": 90, "strokeWidth": 1.3}},
    {"transform": [{"filter": {"field": "country", "equal": "韩国"}}], "mark": {"type": "point", "filled": true, "opacity": 1, "size": 90, "strokeWidth": 1}},
    {"transform": [{"filter": {"field": "country", "equal": "南非"}}], "mark": {"type": "point", "filled": true, "opacity": 1, "size": 85, "strokeWidth": 1}}
  ]
}
